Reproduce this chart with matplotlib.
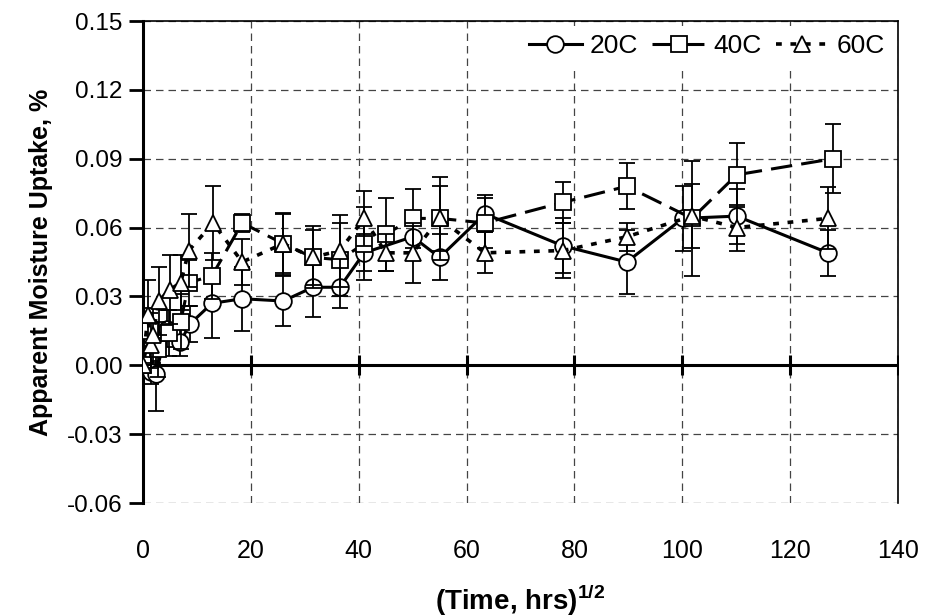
import numpy as np
import matplotlib
matplotlib.use('Agg')
import matplotlib.pyplot as plt

plt.rcParams['font.family'] = ['Liberation Sans', 'DejaVu Sans']
plt.rcParams['axes.unicode_minus'] = False
plt.rcParams['mathtext.fontset'] = 'custom'
plt.rcParams['mathtext.bf'] = 'Liberation Sans:bold'
plt.rcParams['mathtext.rm'] = 'Liberation Sans:bold'

# 20C series
x20 = [0, 1.4, 2.4, 4.4, 6.9, 8.7, 12.8, 18.4, 26.0, 31.5, 36.5, 41.0, 50.0, 55.0,
       63.4, 77.9, 89.7, 100.1, 110.1, 127.0]
y20 = [0, -0.003, -0.004, 0.016, 0.010, 0.018, 0.027, 0.029, 0.028, 0.034, 0.034,
       0.049, 0.056, 0.047, 0.066, 0.052, 0.045, 0.064, 0.065, 0.049]
e20 = [0, 0.005, 0.016, 0.008, 0.006, 0.008, 0.015, 0.014, 0.011, 0.013, 0.009,
       0.008, 0.010, 0.010, 0.008, 0.012, 0.014, 0.014, 0.012, 0.010]

# 40C series
x40 = [0, 1.3, 2.8, 4.9, 7.0, 8.5, 12.8, 18.4, 26.0, 31.5, 36.5, 41.0, 45.0, 50.0,
       55.0, 63.4, 77.9, 89.7, 101.8, 110.1, 128.0]
y40 = [0, 0.015, 0.007, 0.014, 0.019, 0.036, 0.039, 0.062, 0.053, 0.047, 0.046,
       0.053, 0.057, 0.064, 0.064, 0.062, 0.071, 0.078, 0.064, 0.083, 0.090]
e40 = [0, 0.008, 0.012, 0.010, 0.012, 0.010, 0.010, 0.004, 0.013, 0.012, 0.016,
       0.016, 0.016, 0.013, 0.014, 0.011, 0.009, 0.010, 0.025, 0.014, 0.015]

# 60C series
x60 = [0, 0.9, 1.4, 1.9, 2.9, 5.0, 7.0, 8.5, 13.0, 18.4, 26.0, 31.5, 36.5, 41.0,
       45.0, 50.0, 55.0, 63.4, 77.9, 89.7, 101.8, 110.1, 127.0]
y60 = [0, 0.022, 0.009, 0.013, 0.028, 0.033, 0.036, 0.050, 0.062, 0.045, 0.053,
       0.047, 0.050, 0.064, 0.049, 0.049, 0.064, 0.049, 0.050, 0.056, 0.065, 0.060, 0.064]
e60 = [0, 0.015, 0.010, 0.012, 0.015, 0.015, 0.012, 0.016, 0.016, 0.010, 0.0135,
       0.0135, 0.0157, 0.012, 0.008, 0.013, 0.018, 0.009, 0.012, 0.006, 0.014, 0.010, 0.0135]

labels = ['20C', '40C', '60C']
xticks = np.arange(0, 141, 20)
yticks = np.arange(-0.06, 0.151, 0.03)

fig = plt.figure(figsize=(9.26, 6.16), dpi=100)
ax = fig.add_axes([0.1544, 0.1834, 0.8154, 0.7825])

series = [(x20, y20, e20, 'o', '-', 2.2),
          (x40, y40, e40, 's', (0, (7, 3)), 2.2),
          (x60, y60, e60, '^', (0, (1.6, 2.4)), 2.6)]

handles = []
for i, (xs, ys, es, mk, ls, lw) in enumerate(series):
    ax.errorbar(xs, ys, yerr=es, fmt='none', ecolor='black', elinewidth=1.3,
                capsize=6, capthick=1.3, zorder=3 + i)
    h, = ax.plot(xs, ys, marker=mk, ls=ls, lw=lw, color='black', mfc='white',
                 mec='black', mew=1.3, ms=12, label=labels[i], zorder=3 + i)
    handles.append(h)

# zero line with its tick marks
ax.axhline(0, color='black', lw=2.2, zorder=2)
ax.plot(xticks, np.zeros(len(xticks)), ls='none', marker='|', ms=14, mew=2.2,
        color='black', zorder=2)

ax.set_xlim(0, 140)
ax.set_ylim(-0.06, 0.15)
ax.set_xticks(xticks)
ax.set_yticks(yticks)
ax.set_yticklabels(['%.2f' % v for v in yticks])
ax.grid(True, ls=(0, (6, 4)), color='#444444', lw=0.9)
ax.set_axisbelow(True)

ax.tick_params(axis='x', length=0, labelsize=18, pad=26)
ax.tick_params(axis='y', length=10, width=2, direction='out', labelsize=17.5, pad=5)
ax.spines['left'].set_linewidth(2.2)
ax.spines['bottom'].set_visible(False)
ax.spines['top'].set_linewidth(1.2)
ax.spines['right'].set_linewidth(1.2)

ax.set_xlabel(r'(Time, hrs)$^{\mathbf{1/2}}$', fontsize=20, fontweight='bold', labelpad=14)
ax.set_ylabel('Apparent Moisture Uptake, %', fontsize=18, fontweight='bold', labelpad=10)

leg = ax.legend(handles=handles, loc='upper right', ncol=3, frameon=True, fontsize=19,
                handlelength=2.0, columnspacing=0.55, handletextpad=0.3,
                borderaxespad=0.2, borderpad=0.3, fancybox=False, edgecolor='none')
leg.get_frame().set_facecolor('white')
leg.get_frame().set_alpha(1)

fig.savefig('out.png', dpi=100)
